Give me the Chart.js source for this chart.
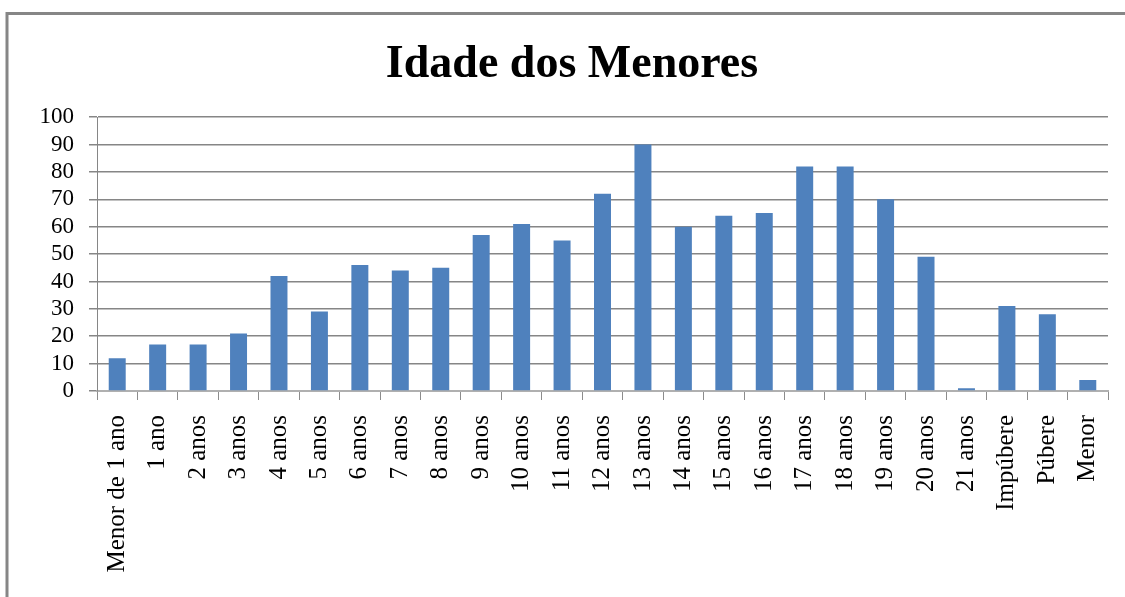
<!DOCTYPE html>
<html>
<head>
<meta charset="utf-8">
<script src="https://cdn.jsdelivr.net/npm/chart.js@4.4.1/dist/chart.umd.min.js"></script>
<style>
html,body{margin:0;padding:0;background:#fff;overflow:hidden;}
#wrap{width:1125px;height:597px;position:relative;}
</style>
</head>
<body>
<div id="wrap"><canvas id="c" width="1125" height="597"></canvas></div>
<script>
const chartTitle = 'Idade dos Menores';
const categories = ['Menor de 1 ano','1 ano','2 anos','3 anos','4 anos','5 anos','6 anos','7 anos','8 anos','9 anos','10 anos','11 anos','12 anos','13 anos','14 anos','15 anos','16 anos','17 anos','18 anos','19 anos','20 anos','21 anos','Impúbere','Púbere','Menor'];
const values = [12,17,17,21,42,29,46,44,45,57,61,55,72,90,60,64,65,82,82,70,49,1,31,28,4];
const yMin = 0, yMax = 100, yStep = 10;

const framePlugin = {
  id: 'frame',
  beforeDraw(chart) {
    const ctx = chart.ctx;
    ctx.save();
    ctx.fillStyle = '#fff';
    ctx.fillRect(0, 0, chart.width, chart.height);
    ctx.strokeStyle = '#868686';
    ctx.lineWidth = 3;
    ctx.beginPath();
    ctx.moveTo(7, 597);
    ctx.lineTo(7, 13.5);
    ctx.lineTo(1125, 13.5);
    ctx.stroke();
    ctx.restore();
  }
};

new Chart(document.getElementById('c'), {
  type: 'bar',
  data: {
    labels: categories,
    datasets: [{
      data: values,
      backgroundColor: '#4F81BD',
      borderWidth: 0,
      barPercentage: 0.42,
      categoryPercentage: 1
    }]
  },
  options: {
    responsive: false,
    animation: false,
    devicePixelRatio: 1,
    layout: { padding: { left: 36, right: 17, top: 0, bottom: 0 } },
    plugins: {
      legend: { display: false },
      tooltip: { enabled: false },
      title: {
        display: true,
        text: chartTitle,
        color: '#000',
        font: { family: 'Liberation Serif', size: 46, weight: 'bold' },
        padding: { top: 38, bottom: 24 }
      }
    },
    scales: {
      x: {
        grid: { drawOnChartArea: false, drawTicks: true, tickLength: 9, color: '#8c8c8c', offset: true },
        border: { display: true, color: '#b0b0b0', width: 2 },
        ticks: {
          autoSkip: false, maxRotation: 90, minRotation: 90,
          color: '#000', padding: 15,
          font: { family: 'Liberation Serif', size: 25 }
        },
        afterFit(scale) { scale.height = 206; scale.paddingRight = 0; scale.paddingLeft = 0; }
      },
      y: {
        min: yMin, max: yMax,
        ticks: {
          stepSize: yStep, autoSkip: false, color: '#000', padding: 15,
          font: { family: 'Liberation Serif', size: 23 }
        },
        grid: { color: '#868686', lineWidth: 1.5, tickLength: 8 },
        border: { display: true, color: '#868686', width: 1 },
        afterFit(scale) { scale.width = 61; }
      }
    }
  },
  plugins: [framePlugin]
});
</script>
</body>
</html>
